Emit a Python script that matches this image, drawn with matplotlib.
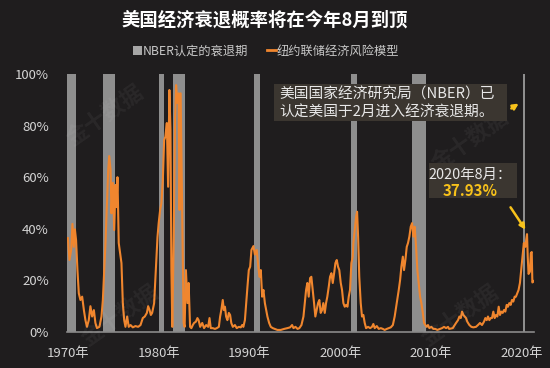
import matplotlib
matplotlib.use("Agg")
import matplotlib.pyplot as plt
from matplotlib.patches import Rectangle, FancyArrowPatch, Patch
from matplotlib.lines import Line2D

plt.rcParams['font.family'] = ['Noto Sans CJK SC', 'DejaVu Sans']

title = "美国经济衰退概率将在今年8月到顶"
legend_labels = ["NBER认定的衰退期", "纽约联储经济风险模型"]

rec_start = [1969.92, 1973.88, 1980.0, 1981.55, 1990.55, 2001.17, 2007.92, 2020.1]
rec_end   = [1970.88, 1975.2, 1980.55, 1982.9, 1991.2, 2001.88, 2009.48, 2020.35]

years = [
 1970.00,1970.17,1970.36,1970.50,1970.65,1970.77,1970.90,1971.05,1971.20,1971.38,1971.57,1971.76,1971.93,
 1972.10,1972.30,1972.48,1972.67,1972.86,1973.03,1973.20,1973.47,1973.70,1973.85,1974.00,1974.14,1974.30,
 1974.44,1974.55,1974.70,1974.80,1974.95,1975.10,1975.24,1975.35,1975.46,1975.60,1975.75,1975.90,1976.05,
 1976.20,1976.34,1976.53,1976.70,1976.90,1977.15,1977.44,1977.74,1978.00,1978.25,1978.47,1978.70,1978.84,
 1979.00,1979.14,1979.28,1979.50,1979.65,1979.87,1980.00,1980.16,1980.30,1980.46,1980.60,1980.74,1980.90,
 1981.04,1981.18,1981.30,1981.40,1981.50,1981.66,1981.80,1981.92,1982.06,1982.20,1982.30,1982.42,1982.53,
 1982.64,1982.75,1982.86,1983.00,1983.17,1983.30,1983.46,1983.60,1983.76,1983.90,1984.10,1984.27,1984.40,
 1984.57,1984.80,1985.00,1985.23,1985.45,1985.60,1985.74,1985.96,1986.20,1986.40,1986.63,1986.77,1986.90,
 1987.06,1987.18,1987.30,1987.43,1987.57,1987.73,1987.87,1988.00,1988.17,1988.40,1988.60,1988.83,1989.05,
 1989.20,1989.33,1989.50,1989.64,1989.78,1989.93,1990.08,1990.22,1990.44,1990.60,1990.80,1990.96,1991.10,
 1991.25,1991.40,1991.54,1991.70,1991.84,1991.98,1992.17,1992.35,1992.57,1992.80,1993.08,1993.45,1993.82,
 1994.18,1994.48,1994.70,1994.85,1995.07,1995.30,1995.50,1995.73,1995.95,1996.10,1996.24,1996.38,1996.53,
 1996.68,1996.82,1996.97,1997.12,1997.26,1997.40,1997.56,1997.70,1997.85,1998.00,1998.14,1998.30,1998.44,
 1998.58,1998.74,1998.88,1999.03,1999.18,1999.33,1999.47,1999.62,1999.76,1999.90,2000.06,2000.20,2000.35,
 2000.50,2000.65,2000.80,2000.94,2001.08,2001.23,2001.38,2001.45,2001.60,2001.75,2001.86,2001.97,2002.10,
 2002.26,2002.40,2002.55,2002.70,2002.85,2003.07,2003.30,2003.50,2003.65,2003.80,2004.03,2004.25,2004.47,
 2004.70,2004.90,2005.13,2005.35,2005.57,2005.80,2006.00,2006.23,2006.45,2006.60,2006.74,2006.90,2007.03,
 2007.18,2007.33,2007.47,2007.62,2007.77,2007.92,2008.06,2008.20,2008.36,2008.50,2008.65,2008.80,2008.94,
 2009.10,2009.24,2009.38,2009.53,2009.67,2009.82,2010.04,2010.26,2010.48,2010.70,2011.00,2011.22,2011.44,
 2011.66,2011.88,2012.00,2012.40,2012.76,2012.98,2013.13,2013.28,2013.42,2013.57,2013.72,2013.86,2014.00,
 2014.23,2014.45,2014.67,2014.96,2015.18,2015.40,2015.62,2015.84,2015.99,2016.14,2016.28,2016.43,2016.58,
 2016.72,2016.87,2017.02,2017.17,2017.31,2017.46,2017.60,2017.75,2017.90,2018.04,2018.19,2018.34,2018.48,
 2018.63,2018.78,2018.92,2019.07,2019.22,2019.36,2019.50,2019.65,2019.80,2019.94,2020.08,2020.23,2020.40,
 2020.50,2020.58,2020.66,2020.75,2020.90,2021.00,2021.10,2021.17,2021.30]

prob = [
 36.4,27.9,31.8,41.9,33.0,39.8,35.6,24.0,15.0,12.4,13.7,8.5,4.6,
 2.0,4.6,10.0,6.0,8.5,3.5,1.5,2.0,6.0,12.4,24.0,34.5,50.0,
 62.8,68.2,62.8,46.0,57.8,39.5,57.0,48.4,60.0,34.5,30.6,26.7,11.2,
 4.6,2.0,6.0,2.0,2.7,1.8,2.3,2.0,2.7,5.4,6.0,7.4,10.0,
 8.5,6.6,7.4,11.2,21.3,36.8,42.2,47.3,50.0,59.0,74.4,75.7,81.0,
 56.3,93.8,78.3,24.0,2.0,37.0,82.2,95.7,88.8,92.5,47.3,92.5,62.8,
 30.6,3.5,2.0,24.0,11.2,19.0,2.0,1.5,2.7,3.5,4.0,5.4,4.6,
 2.0,3.5,1.5,2.7,2.0,5.4,1.5,1.5,1.2,1.5,2.0,6.0,8.5,
 12.4,8.5,9.8,6.0,4.6,7.4,6.6,3.5,2.0,2.7,1.5,2.0,1.8,
 2.7,2.0,4.6,11.2,17.5,24.0,25.3,31.8,33.3,30.0,31.8,26.0,21.4,
 24.0,13.7,16.3,11.2,8.5,6.0,3.5,2.0,1.5,1.2,0.8,0.8,1.2,
 1.5,1.8,2.7,1.5,2.0,1.2,1.5,2.7,6.0,11.2,16.3,19.0,13.7,
 20.9,21.4,16.3,11.2,6.0,8.5,11.2,12.4,7.4,8.5,11.2,7.4,11.2,
 13.7,17.6,21.4,22.8,19.0,22.8,26.7,27.9,25.3,24.0,19.0,16.3,11.2,
 9.8,10.5,9.8,13.7,16.3,26.7,29.2,34.5,39.5,44.7,46.6,37.0,21.4,
 11.2,6.0,6.6,3.5,1.5,2.0,1.5,2.0,3.1,1.5,2.3,1.2,1.5,
 1.2,0.8,1.2,1.5,1.8,2.7,6.0,11.2,16.3,20.2,25.3,29.2,24.0,
 27.9,33.0,34.5,37.0,40.8,42.2,37.0,40.8,33.0,24.0,19.0,13.7,11.2,
 7.4,3.5,2.7,2.0,2.7,1.5,2.0,1.2,1.2,0.8,1.2,1.5,2.0,
 1.5,2.0,1.2,1.5,3.5,4.6,6.0,5.4,7.9,6.6,6.0,5.4,4.0,
 2.7,2.0,1.8,2.0,2.7,3.5,2.7,4.0,5.4,4.6,6.0,4.6,5.4,
 5.4,7.9,5.4,6.6,6.0,9.8,6.6,7.9,7.4,8.5,7.9,10.5,9.8,
 11.2,10.5,12.4,11.8,13.7,13.7,15.0,16.3,19.0,24.0,29.2,34.5,33.0,
 36.0,37.93,29.2,22.5,23.4,30.6,31.0,19.2,19.7]

xticks = [1970, 1980, 1990, 2000, 2010, 2020]
xtick_labels = ["1970年", "1980年", "1990年", "2000年", "2010年", "2020年"]
yticks = [0, 20, 40, 60, 80, 100]
ytick_labels = ["0%", "20%", "40%", "60%", "80%", "100%"]

BG = "#1f1d1e"
BAR = "#8e8e8e"
ORANGE = "#f0862e"
GOLD = "#f7c21b"
BOX = "#3b3630"

W, H = 550, 368
fig = plt.figure(figsize=(W/100, H/100), dpi=100, facecolor=BG)
ax = fig.add_axes([67/W, 1-332/H, (534-67)/W, (332-74)/H], facecolor=BG)

for s, e in zip(rec_start, rec_end):
    ax.axvspan(s, e, ymin=0, ymax=1, color=BAR, lw=0, zorder=1)
ax.plot(years, prob, color=ORANGE, lw=1.5, zorder=3)

ax.set_xlim(1969.9, 2021.35)
ax.set_ylim(0, 100)
ax.set_xticks(xticks)
ax.set_xticklabels(xtick_labels)
ax.set_yticks(yticks)
ax.set_yticklabels(ytick_labels)
ax.tick_params(length=0, colors="#d4d4d4", labelsize=9.5)
ax.tick_params(axis='x', pad=11)
ax.tick_params(axis='y', pad=13)
for sp in ["top", "right", "left"]:
    ax.spines[sp].set_visible(False)
ax.spines["bottom"].set_color("#8a8a8a")
ax.spines["bottom"].set_linewidth(1.2)

def fx(x): return x / W
def fy(y): return 1 - y / H

fig.text(fx(265), fy(20), title, ha="center", va="center", color="white",
         fontsize=13.2, fontweight="bold")

handles = [Patch(facecolor="#a6a6a6", edgecolor="none"),
           Line2D([0], [0], color=ORANGE, lw=2)]
fig.legend(handles, legend_labels, loc="center", bbox_to_anchor=(fx(266), fy(51)),
           ncol=2, frameon=False, fontsize=8.8, labelcolor="#c8c8c8",
           handlelength=0.75, handleheight=0.75, handletextpad=0.1,
           columnspacing=1.5)

# annotation box 1
fig.patches.append(Rectangle((fx(274), fy(121)), (507-274)/W, (121-84)/H,
                             transform=fig.transFigure, facecolor=BOX,
                             edgecolor="none", zorder=5))
fig.text(fx(279), fy(95), "美国国家经济研究局（NBER）已", ha="left", va="center",
         color="#e8e8e8", fontsize=10.6, zorder=6)
fig.text(fx(279), fy(113), "认定美国于2月进入经济衰退期。", ha="left", va="center",
         color="#e8e8e8", fontsize=10.6, zorder=6)

# annotation box 2
fig.patches.append(Rectangle((fx(429), fy(198)), (517-429)/W, (198-163)/H,
                             transform=fig.transFigure, facecolor=BOX,
                             edgecolor="none", zorder=5))
fig.text(fx(470), fy(175), "2020年8月：", ha="center", va="center",
         color="#e8e8e8", fontsize=10.4, zorder=6)
fig.text(fx(470), fy(191), "37.93%", ha="center", va="center",
         color=GOLD, fontsize=10.8, fontweight="bold", zorder=6)

for (x0, y0, x1, y1) in [(509, 110, 521, 102), (509, 205, 527, 232)]:
    fig.patches.append(FancyArrowPatch((fx(x0), fy(y0)), (fx(x1), fy(y1)),
                                       transform=fig.transFigure,
                                       arrowstyle="-|>", mutation_scale=8,
                                       color=GOLD, lw=1.8, zorder=7))

# faint watermarks
for (x, y) in [(105, 115), (470, 140), (120, 315), (460, 315)]:
    fig.text(fx(x), fy(y), "金十数据", ha="center", va="center", rotation=35,
             color="#ffffff", alpha=0.05, fontsize=16, fontweight="bold", zorder=0)

fig.savefig("out.png", dpi=100, facecolor=BG)
